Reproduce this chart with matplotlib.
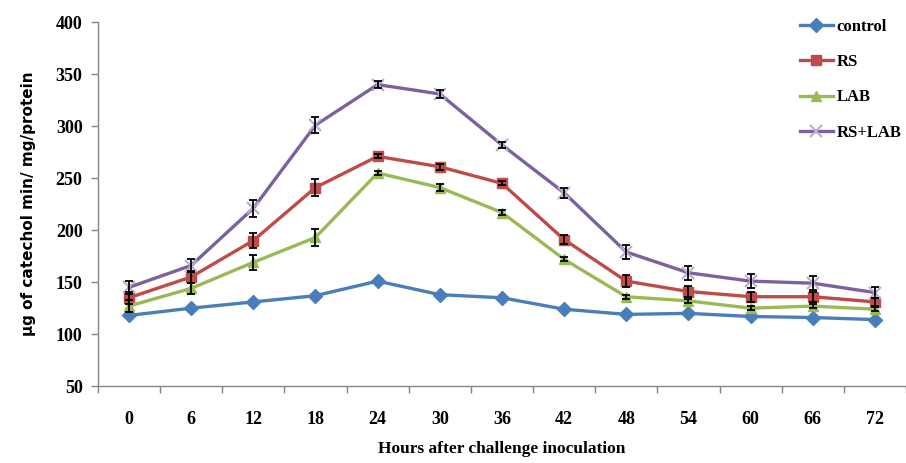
import matplotlib
matplotlib.use("Agg")
import matplotlib.pyplot as plt
import numpy as np

# hours after challenge inoculation
hours = [0, 6, 12, 18, 24, 30, 36, 42, 48, 54, 60, 66, 72]

# enzyme activity (ug catechol / min / mg protein)
control = [118, 125, 131, 137, 151, 138, 135, 124, 119, 120, 117, 116, 114]
rs = [135, 155, 190, 241, 271, 261, 245, 191, 151, 141, 136, 136, 131]
lab = [127, 144, 169, 193, 255, 241, 217, 172, 136, 132, 125, 127, 124]
rs_lab = [145, 166, 221, 301, 340, 331, 282, 236, 179, 159, 151, 149, 140]

# error bar half-widths
control_err = [1, 1, 1, 1, 1, 1, 1, 1, 1, 1, 1, 1, 1]
rs_err = [6, 6, 7, 8, 2, 3, 2, 4, 6, 5, 5, 5, 4]
lab_err = [6, 5, 7, 8, 2, 3, 2, 2, 2, 2, 2, 2, 2]
rs_lab_err = [6, 6, 8, 8, 3, 4, 3, 5, 7, 7, 7, 7, 5]

series = [
    ("control", control, control_err, "#4A7EBB", "D", "#4A7EBB"),
    ("RS", rs, rs_err, "#BE4B48", "s", "#BE4B48"),
    ("LAB", lab, lab_err, "#98B954", "^", "#98B954"),
    ("RS+LAB", rs_lab, rs_lab_err, "#7D60A0", "x", "#B8AECB"),
]

fig = plt.figure(figsize=(9.06, 4.63), dpi=100)
ax = fig.add_axes([0.108, 0.166, 0.892, 0.786])

x = np.arange(len(hours))
for name, vals, err, col, mk, mkcol in series:
    # control bars are hidden under the markers in the original
    ez = 1 if name == "control" else 3
    ax.errorbar(x, vals, yerr=err, fmt="none", ecolor="black",
                elinewidth=1.3, capsize=3, capthick=1.3, zorder=ez)
    ax.plot(x, vals, color=col, linewidth=2.4, marker=mk,
            markersize=7 if mk != "x" else 8, markerfacecolor=mkcol,
            markeredgecolor=mkcol, markeredgewidth=1.5 if mk == "x" else 1,
            label=name, zorder=2)

ax.set_xlim(-0.5, len(hours) - 0.5)
ax.set_ylim(50, 400)
ax.set_yticks(range(50, 401, 50))

# category labels without ticks, tick marks between categories
ax.set_xticks(x)
ax.set_xticklabels([str(h) for h in hours])
ax.set_xticks(np.arange(-0.5, len(hours), 1.0), minor=True)
ax.tick_params(axis="x", which="major", length=0, pad=18)
ax.tick_params(axis="x", which="minor", length=5, color="#868686", width=1)
ax.tick_params(axis="y", length=5, color="#868686", width=1, pad=6)

for lbl in ax.get_xticklabels() + ax.get_yticklabels():
    lbl.set_fontfamily("Liberation Serif")
    lbl.set_fontweight("bold")
    lbl.set_fontsize(13)

for side in ["top", "right"]:
    ax.spines[side].set_visible(False)
for side in ["left", "bottom"]:
    ax.spines[side].set_color("#868686")
    ax.spines[side].set_linewidth(1)

ax.set_xlabel("Hours after challenge inoculation", fontfamily="Liberation Serif",
              fontweight="bold", fontsize=12.5, labelpad=9)
ax.set_ylabel("\u00b5g of catechol min/ mg/protein", fontfamily="DejaVu Sans",
              fontweight="bold", fontsize=11, labelpad=14)

leg = ax.legend(loc="upper left", bbox_to_anchor=(0.85, 1.05), frameon=False,
                prop={"family": "Liberation Serif", "weight": "bold", "size": 12},
                handlelength=2.0, handletextpad=0.2, labelspacing=1.15)

fig.savefig("out.png", dpi=100)
